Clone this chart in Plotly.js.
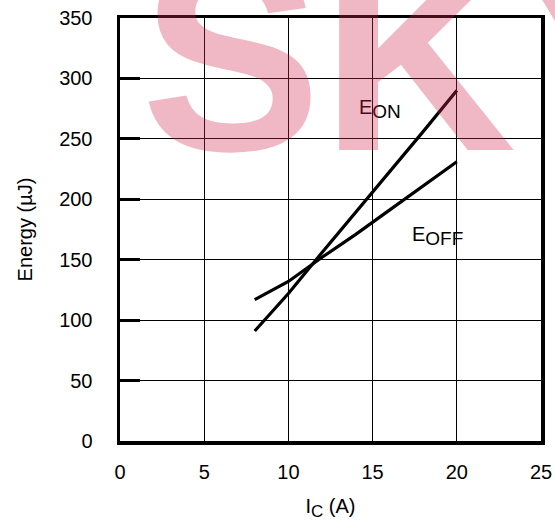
<!DOCTYPE html>
<html><head><meta charset="utf-8">
<script src="https://cdn.plot.ly/plotly-3.0.1.min.js"></script>
<style>body{margin:0;padding:0;background:#fff}#chart{width:555px;height:523px}</style>
</head><body><div id="chart"></div>
<script>
const currentA = [8, 10, 12, 14, 16, 18, 20];
const eOn = [91, 122, 156, 189, 222, 256, 290];
const eOff = [117, 132, 152, 171, 191, 211, 231];
const xTicks = [0, 5, 10, 15, 20, 25];
const yTicks = [0, 50, 100, 150, 200, 250, 300, 350];

const font = 'Liberation Sans, Arial, Helvetica, sans-serif';
const traces = [
  {x: currentA, y: eOn, mode: 'lines', line: {color: '#000', width: 3.2}, name: 'E_ON', hoverinfo: 'skip'},
  {x: currentA, y: eOff, mode: 'lines', line: {color: '#000', width: 3.2}, name: 'E_OFF', hoverinfo: 'skip'}
];
const layout = {
  width: 555, height: 523,
  margin: {l: 120, r: 14, t: 18, b: 82},
  paper_bgcolor: '#fff', plot_bgcolor: '#fff',
  showlegend: false,
  font: {family: font, size: 20, color: '#000'},
  xaxis: {
    range: [0, 25], tickvals: xTicks, ticktext: xTicks.map(String),
    showgrid: true, gridcolor: '#000', gridwidth: 1,
    zeroline: false, showline: true, linecolor: '#000', linewidth: 3.5, mirror: true,
    ticks: '', ticklabelstandoff: 10, fixedrange: true,
    tickfont: {family: font, size: 20, color: '#000'},
    title: {text: 'I<sub><span style="font-size:17px">C</span></sub> (A)', standoff: 18, font: {family: font, size: 20, color: '#000'}}
  },
  yaxis: {
    range: [0, 350], tickvals: yTicks, ticktext: yTicks.map(String),
    showgrid: true, gridcolor: '#000', gridwidth: 1,
    zeroline: false, showline: true, linecolor: '#000', linewidth: 3.5, mirror: true,
    ticks: 'inside', ticklen: 20, tickwidth: 3, tickcolor: '#000', ticklabelstandoff: 20,
    fixedrange: true,
    tickfont: {family: font, size: 20, color: '#000'},
    title: {text: 'Energy (µJ)', standoff: 22, font: {family: font, size: 20, color: '#000'}}
  },
  annotations: [
    {x: 14.07, y: 275, xref: 'x', yref: 'y', text: 'E<sub><span style="font-size:19px">ON</span></sub>', showarrow: false,
     xanchor: 'left', font: {family: font, size: 20, color: '#000'}},
    {x: 17.22, y: 170, xref: 'x', yref: 'y', text: 'E<sub><span style="font-size:19px">OFF</span></sub>', showarrow: false,
     xanchor: 'left', font: {family: font, size: 20, color: '#000'}},
    {x: 0, y: 1.01, xref: 'paper', yref: 'paper', text: '<b>SKY</b>', showarrow: false,
     xanchor: 'left', yanchor: 'bottom', xshift: 19, yshift: -195,
     font: {family: 'Liberation Sans, Arial, sans-serif', size: 270, color: 'rgba(205,40,75,0.33)'}}
  ]
};
Plotly.newPlot('chart', traces, layout, {staticPlot: true, displayModeBar: false});
</script></body></html>
